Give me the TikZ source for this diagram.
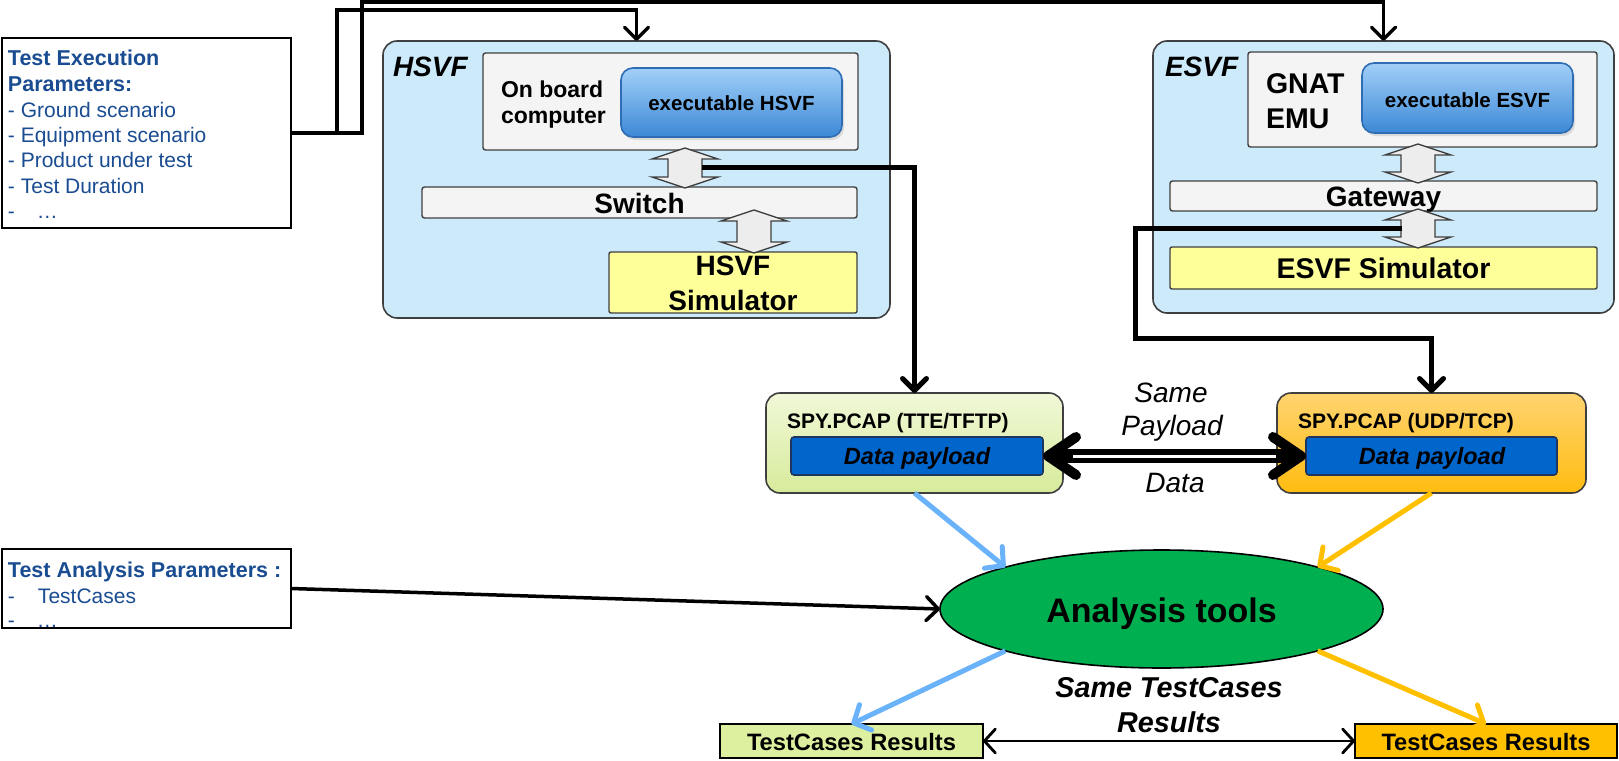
\documentclass[tikz,border=0pt]{standalone}
\usepackage{fontspec}
\setmainfont{Liberation Sans}
\usetikzlibrary{arrows.meta,shapes.geometric,shadows}

\definecolor{paramblue}{HTML}{1A4C92}
\definecolor{panelblue}{HTML}{CDEAFB}
\definecolor{framegray}{HTML}{3F3F3F}
\definecolor{boxgray}{HTML}{F4F4F4}
\definecolor{arrowgray}{HTML}{EDEDED}
\definecolor{simyellow}{HTML}{FFFF99}
\definecolor{exetop}{HTML}{A2CFF8}
\definecolor{exebot}{HTML}{3C89D6}
\definecolor{exeline}{HTML}{2E6DB4}
\definecolor{greentop}{HTML}{F0F8D8}
\definecolor{greenbot}{HTML}{D7EB9B}
\definecolor{orangetop}{HTML}{FFD470}
\definecolor{orangebot}{HTML}{FFBC10}
\definecolor{payload}{HTML}{0066CC}
\definecolor{payloadline}{HTML}{1F3560}
\definecolor{anagreen}{HTML}{00B050}
\definecolor{resgreen}{HTML}{DCF0A0}
\definecolor{resorange}{HTML}{FFC000}
\definecolor{flowblue}{HTML}{6AB2FA}
\definecolor{floworange}{HTML}{FFC000}

\newcommand\fsz[2]{\fontsize{#1}{#2}\selectfont}
% vertical two-headed block arrow: centre x, top y, bottom y
\newcommand\blockarrow[3]{%
  \draw[blockarr] (#1,#2) -- ++(33,11) -- ++(-16,0) -- (#1+17,#3-11) -- ++(16,0)
    -- (#1,#3) -- ++(-33,-11) -- ++(16,0) -- (#1-17,#2+11) -- ++(-16,0) -- cycle;}

\begin{document}
\begin{tikzpicture}[x=1pt,y=-1pt,
  every node/.style={inner sep=0pt, outer sep=0pt},
  panel/.style={draw=framegray, line width=1.6pt, fill=panelblue, rounded corners=14pt},
  graybox/.style={draw=framegray, line width=1.4pt, fill=boxgray, rounded corners=2.5pt},
  simbox/.style={draw=framegray, line width=1.4pt, fill=simyellow, rounded corners=2pt},
  exebox/.style={draw=exeline, line width=1.6pt, top color=exetop, bottom color=exebot,
    rounded corners=12pt, drop shadow={opacity=0.22, shadow xshift=2pt, shadow yshift=-3pt}},
  spybox/.style={draw=framegray, line width=1.6pt, rounded corners=14pt},
  payloadbox/.style={draw=payloadline, line width=1.6pt, fill=payload, rounded corners=3pt},
  parbox/.style={draw=black, line width=1.6pt, fill=white},
  resbox/.style={draw=black, line width=1.6pt},
  blockarr/.style={draw=framegray, line width=1.3pt, fill=arrowgray},
  lbl/.style={anchor=base, font=\bfseries\fsz{28}{34}},
  ptext/.style={anchor=base west, text=paramblue, font=\fsz{21}{25}},
  ptitle/.style={anchor=base west, text=paramblue, font=\bfseries\fsz{21.5}{25}},
  conn/.style={draw=black, line width=3.5pt, -{Straight Barb[round, length=12pt, width=24pt]}},
  flow/.style={line width=5pt, -{Straight Barb[round, length=13pt, width=28pt]}},
]
\useasboundingbox (0,0) rectangle (1619,760);

% ---------- parameter boxes ----------
\node[parbox, minimum width=289pt, minimum height=190pt] (exec) at (146.5,133) {};
\node[ptitle] (e1) at (8,66) {Test Execution};
\node[ptitle] (e2) at (8,92) {Parameters:};
\node[ptext] (e3) at (8,117) {- Ground scenario};
\node[ptext] (e4) at (8,142) {- Equipment scenario};
\node[ptext] (e5) at (8,167) {- Product under test};
\node[ptext] (e6) at (8,193) {- Test Duration};
\node[ptext] (e7) at (8,218) {-\hspace{22pt}…};

\node[parbox, draw=none, minimum width=289pt, minimum height=79pt] (apar) at (146.5,588.5) {};
\begin{scope}
  \clip (apar.north west) rectangle (apar.south east);
  \node[ptitle] (a1) at (8,577) {Test Analysis Parameters :};
  \node[ptext] (a2) at (8,603) {-\hspace{23pt}TestCases};
  \node[ptext] (a3) at (8,627) {-\hspace{22pt}…};
\end{scope}
\draw[line width=1.6pt] (apar.north west) rectangle (apar.south east);

% ---------- HSVF panel ----------
\node[panel, minimum width=507pt, minimum height=277pt] (hsvf) at (636.5,179.5) {};
\node[anchor=base west, font=\bfseries\itshape\fsz{28}{34}] (hsvflbl) at (393,77) {HSVF};
\node[graybox, minimum width=375pt, minimum height=97pt] (obc) at (670.5,101.5) {};
\node[anchor=base west, font=\bfseries\fsz{23}{26}] (obc1) at (501,97) {On board};
\node[anchor=base west, font=\bfseries\fsz{23}{26}] (obc2) at (501,123) {computer};
\node[exebox, minimum width=221pt, minimum height=69pt] (exh) at (731.5,102.5) {};
\node[anchor=base, font=\bfseries\fsz{20.5}{24}] (exhlbl) at (731.5,110) {executable HSVF};
\node[graybox, minimum width=435pt, minimum height=31pt] (switch) at (639.5,202.5) {};
\node[lbl] (switchlbl) at (639.5,213) {Switch};
\node[simbox, minimum width=248pt, minimum height=61pt] (hsim) at (733,282.5) {};
\node[lbl] (hsim1) at (733,275) {HSVF};
\node[lbl] (hsim2) at (733,310) {Simulator};
\blockarrow{685}{148}{188}
\blockarrow{754}{210}{253}
\coordinate (hsw) at (702,167);

% ---------- ESVF panel ----------
\node[panel, minimum width=461pt, minimum height=272pt] (esvf) at (1383.5,177) {};
\node[anchor=base west, font=\bfseries\itshape\fsz{28}{34}] (esvflbl) at (1165,77) {ESVF};
\node[graybox, minimum width=349pt, minimum height=95pt] (gnat) at (1422.5,99.5) {};
\node[anchor=base west, font=\bfseries\fsz{28.5}{34}] (gnat1) at (1266,93) {GNAT};
\node[anchor=base west, font=\bfseries\fsz{28.5}{34}] (gnat2) at (1266,128) {EMU};
\node[exebox, minimum width=211pt, minimum height=70pt] (exe) at (1467.5,98) {};
\node[anchor=base, font=\bfseries\fsz{20.5}{24}] (exelbl) at (1467.5,107) {executable ESVF};
\node[graybox, minimum width=427pt, minimum height=30pt] (gateway) at (1383.5,196) {};
\node[lbl, font=\bfseries\fsz{28}{32}] (gatewaylbl) at (1383.5,206) {Gateway};
\node[simbox, minimum width=427pt, minimum height=42pt] (esim) at (1383.5,268) {};
\node[lbl, font=\bfseries\fsz{28.5}{32}] (esimlbl) at (1383.5,278) {ESVF Simulator};
\blockarrow{1418}{144}{183}
\blockarrow{1418}{209}{248}
\coordinate (gsw) at (1402,228);
\coordinate (gbend) at (1135,338);

% ---------- capture files ----------
\node[spybox, top color=greentop, bottom color=greenbot, minimum width=297pt, minimum height=100pt] (spyl) at (914.5,443) {};
\node[anchor=base west, font=\bfseries\fsz{21}{24}] (spyllbl) at (787,428) {SPY.PCAP (TTE/TFTP)};
\node[payloadbox, minimum width=252pt, minimum height=38pt] (dpl) at (917,456) {};
\node[anchor=base, font=\bfseries\itshape\fsz{23.5}{26}] (dpllbl) at (917,464) {Data payload};

\node[spybox, top color=orangetop, bottom color=orangebot, minimum width=309pt, minimum height=100pt] (spyr) at (1431.5,443) {};
\node[anchor=base west, font=\bfseries\fsz{21}{24}] (spyrlbl) at (1298,428) {SPY.PCAP (UDP/TCP)};
\node[payloadbox, minimum width=251pt, minimum height=38pt] (dpr) at (1431.5,456) {};
\node[anchor=base, font=\bfseries\itshape\fsz{23.5}{26}] (dprlbl) at (1432,464) {Data payload};

\node[anchor=base, font=\itshape\fsz{28}{32}] (same1) at (1171,402) {Same};
\node[anchor=base, font=\itshape\fsz{28}{32}] (same2) at (1172,435) {Payload};
\node[anchor=base, font=\itshape\fsz{28}{32}] (same3) at (1175,492) {Data};

% ---------- analysis ----------
\node[ellipse, draw=black, line width=1.6pt, fill=anagreen, minimum width=443pt, minimum height=118pt] (ana) at (1161.5,609) {};
\node[anchor=base, font=\bfseries\fsz{34}{38}] (analbl) at (1161.5,622) {Analysis tools};

\node[resbox, fill=resgreen, minimum width=263pt, minimum height=34pt] (resl) at (851.5,741) {};
\node[anchor=base, font=\bfseries\fsz{23.7}{26}] (resllbl) at (851.5,750) {TestCases Results};
\node[resbox, fill=resorange, minimum width=262pt, minimum height=34pt] (resr) at (1486,741) {};
\node[anchor=base, font=\bfseries\fsz{23.7}{26}] (resrlbl) at (1486,750) {TestCases Results};
\node[anchor=base, font=\bfseries\itshape\fsz{28.7}{32}] (samer1) at (1169,697) {Same TestCases};
\node[anchor=base, font=\bfseries\itshape\fsz{28.7}{32}] (samer2) at (1169,732) {Results};

% ---------- connectors ----------
\draw[conn] (exec.east) -| (337,10) -| (hsvf.north);
\draw[conn] (exec.east) -| (362,2) -| (esvf.north);
\draw[conn, line width=5pt] (hsw) -| (spyl.north);
\draw[conn, line width=5pt] (gsw) -| (gbend) -| (spyr.north);

\draw[line width=14pt, {Straight Barb[round, length=28pt, width=38pt, line width=10pt]}-{Straight Barb[round, length=28pt, width=38pt, line width=10pt]}] (dpl.east) -- (dpr.west);
\draw[white, line width=3pt, shorten <=30pt, shorten >=30pt] (dpl.east) -- (dpr.west);

\draw[flow, flowblue] (spyl.south) -- (ana.165);
\draw[flow, floworange] (spyr.south) -- (ana.15);
\draw[conn] (apar.east) -- (ana.west);
\draw[flow, flowblue] (ana.195) -- (resl.north);
\draw[flow, floworange] (ana.345) -- (resr.north);
\draw[line width=2.8pt, {Straight Barb[round, length=11pt, width=24pt]}-{Straight Barb[round, length=11pt, width=24pt]}] (resl.east) -- (resr.west);
\end{tikzpicture}
\end{document}
